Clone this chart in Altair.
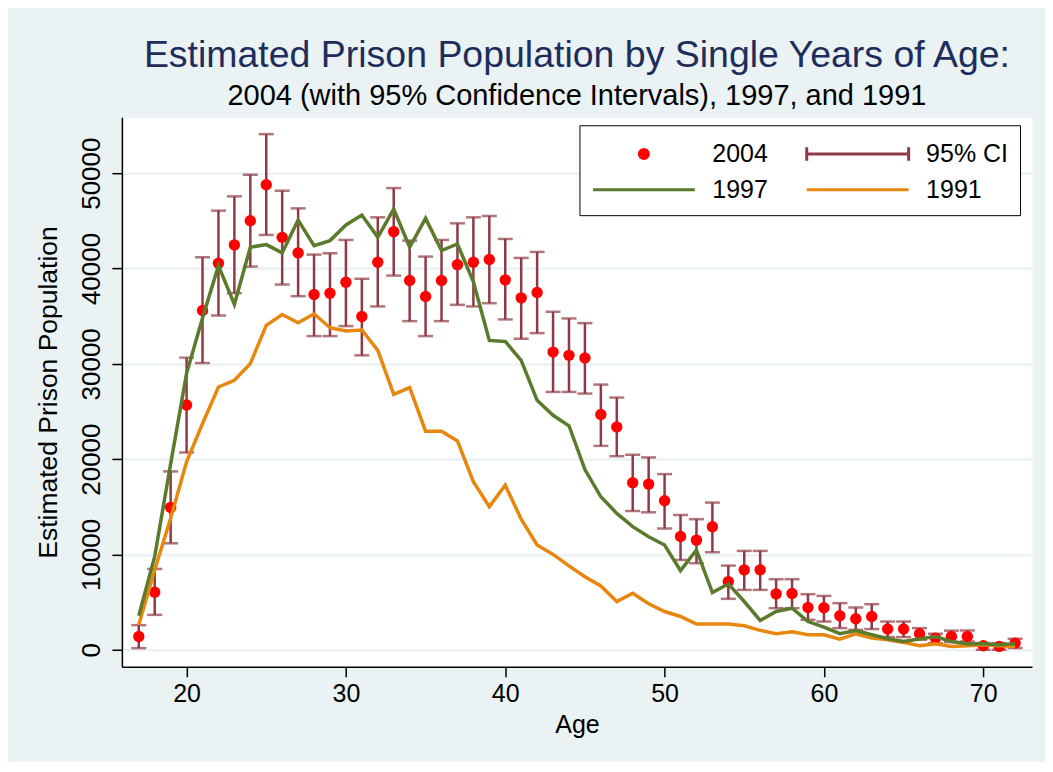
import altair as alt
import pandas as pd

FONT = "Liberation Sans"

ages = list(range(17, 73))

est_2004 = [1390, 6040, 14940, 25680, 35600, 40560, 42480, 45020, 48790, 43270,
            41640, 37270, 37410, 38560, 34970, 40660, 43870, 38740, 37060, 38740,
            40410, 40660, 40940, 38810, 36920, 37480, 31230, 30890, 30610, 24680,
            23380, 17520, 17380, 15630, 11880, 11500, 12910, 7150, 8380, 8380,
            5860, 5900, 4430, 4400, 3560, 3250, 3490, 2170, 2170, 1680,
            1220, 1390, 1390, 420, 350, 700]

ci_low = [170, 3660, 11170, 20700, 30080, 35070, 37410, 40200, 43520, 38320,
          37100, 32910, 32910, 33960, 30890, 36020, 39260, 34480, 32910, 34480,
          36190, 36020, 36360, 34660, 32630, 33220, 27050, 27050, 26880, 21390,
          20310, 14550, 14420, 12720, 9420, 9080, 10230, 5340, 6280, 6280,
          4360, 4360, 3140, 2960, 2270, 2090, 2170, 1330, 1330, 1050,
          700, 800, 870, 0, 0, 180]

ci_high = [2580, 8480, 18710, 30650, 41180, 46070, 47570, 49840, 54100, 48160,
           46310, 41460, 41600, 43000, 38920, 45370, 48440, 42930, 41250, 43000,
           44740, 45370, 45510, 43100, 41110, 41740, 35460, 34760, 34270, 27820,
           26460, 20450, 20180, 18430, 14140, 13700, 15440, 8830, 10370, 10370,
           7400, 7400, 5830, 5650, 4890, 4430, 4780, 2960, 2960, 2270,
           1680, 2000, 2020, 700, 700, 1150]

pop_1997 = [3560, 9800, 19500, 29000, 34800, 40300, 36230, 42230, 42510, 41640,
            45090, 42400, 42930, 44570, 45610, 43270, 46240, 42230, 45260, 41880,
            42580, 38600, 32460, 32350, 30370, 26170, 24600, 23500, 18900, 16050,
            14310, 12910, 11850, 10990, 8300, 10470, 6000, 6910, 5060, 3070,
            4010, 4360, 2960, 2370, 1680, 2020, 1570, 1150, 870, 1120,
            1390, 870, 630, 630, 520, 630]

pop_1991 = [2620, 8380, 13790, 19720, 23730, 27570, 28270, 30020, 34030, 35180,
            34310, 35250, 33790, 33450, 33550, 31410, 26800, 27500, 22930, 22930,
            21910, 17620, 15000, 17270, 13700, 11000, 10000, 8800, 7670, 6700,
            5060, 5930, 4820, 4010, 3490, 2690, 2690, 2690, 2520, 2030,
            1680, 1890, 1570, 1570, 1120, 1680, 1220, 1050, 770, 420,
            630, 350, 420, 520, 420, 350]

# legend entries are filled column by column: 2004, 1997 | 95% CI, 1991
legend_labels = ["2004", "1997", "95% CI", "1991"]
legend_colors = ["#FF0000", "#5B7B2C", "#8E3B46", "#E8870E"]
x_ticks = [20, 30, 40, 50, 60, 70]
y_ticks = [0, 10000, 20000, 30000, 40000, 50000]
Y_TITLE = "Estimated Prison Population"

df_pts = pd.DataFrame({"age": ages, "est": est_2004, "lo": ci_low, "hi": ci_high,
                       "series": ["2004"] * len(ages)})
df_1997 = pd.DataFrame({"age": ages, "value": pop_1997, "series": ["1997"] * len(ages)})
df_1991 = pd.DataFrame({"age": ages, "value": pop_1991, "series": ["1991"] * len(ages)})
df_lines = pd.concat([df_1997, df_1991], ignore_index=True)

xs = alt.Scale(domain=[15.94, 73.06], nice=False, zero=False)
ys = alt.Scale(domain=[-1782, 55870], nice=False, zero=False)
cs = alt.Scale(domain=legend_labels, range=legend_colors)


def ring(cx, r):
    return (f"M{cx - r},0A{r},{r} 0 1,0 {cx + r},0"
            f"A{r},{r} 0 1,0 {cx - r},0Z")


# legend symbol paths (1 unit = 15 px; symbol centre shifted by symbolOffset)
CIRCLE_PATH = ring(-2.4, 0.1) + ring(-2.4, 0.3)
CI_PATH = "M-5.8,0H1M-5.8,-0.45V0.45M1,-0.45V0.45"
LINE_PATH = "M-5.8,0H1"
shp = alt.Scale(domain=legend_labels, range=[CIRCLE_PATH, LINE_PATH, CI_PATH, LINE_PATH])

x_axis = alt.Axis(values=x_ticks, title="Age", grid=False, labelFontSize=25,
                  titleFontSize=25, labelPadding=5, titlePadding=6)
y_axis = alt.Axis(values=y_ticks, title=Y_TITLE, grid=True, format="d",
                  labelFontSize=26, titleFontSize=26.5, labelAngle=270,
                  labelAlign="center", labelBaseline="bottom", labelPadding=7,
                  titlePadding=16)

legend = alt.Legend(
    title=None, orient="none", legendX=458, legendY=8, columns=2,
    columnPadding=32, rowPadding=6, padding=12,
    fillColor="white", strokeColor="black",
    labelFont=FONT, labelFontSize=25, labelColor="black", labelOffset=16,
    symbolSize=900, symbolOffset=72, symbolStrokeWidth=3, symbolOpacity=1,
    symbolFillColor="#FF0000",
)

ci = alt.Chart(df_pts).mark_errorbar(ticks=True, size=15, thickness=2.5,
                                      color="#8E3B46").encode(
    x=alt.X("age:Q", scale=xs, axis=x_axis),
    y=alt.Y("lo:Q", scale=ys, axis=y_axis, title=Y_TITLE),
    y2="hi:Q",
)

points = alt.Chart(df_pts).mark_circle(size=130, opacity=1, color="#FF0000").encode(
    x=alt.X("age:Q", scale=xs, title="Age"),
    y=alt.Y("est:Q", scale=ys, title=Y_TITLE),
)

line_1997 = alt.Chart(df_1997).mark_line(strokeWidth=3.5, color=legend_colors[1]).encode(
    x=alt.X("age:Q", scale=xs, title="Age"),
    y=alt.Y("value:Q", scale=ys, title=Y_TITLE),
)

line_1991 = alt.Chart(df_1991).mark_line(strokeWidth=3.5, color=legend_colors[3]).encode(
    x=alt.X("age:Q", scale=xs, title="Age"),
    y=alt.Y("value:Q", scale=ys, title=Y_TITLE),
)

# invisible carrier layer that only provides the legend
legend_layer = alt.Chart(df_lines).mark_point(filled=False, opacity=0).encode(
    x=alt.X("age:Q", scale=xs, title="Age"),
    y=alt.Y("value:Q", scale=ys, title=Y_TITLE),
    color=alt.Color("series:N", scale=cs, legend=legend),
    shape=alt.Shape("series:N", scale=shp, legend=legend),
)

chart = alt.layer(ci, points, line_1991, line_1997, legend_layer).properties(
    width=911, height=550,
    padding={"left": 114, "top": 109, "right": 13, "bottom": 95},
    autosize=alt.AutoSizeParams(type="none"),
    background="#EAF2F3",
    title=alt.TitleParams(
        text="Estimated Prison Population by Single Years of Age:",
        subtitle="2004 (with 95% Confidence Intervals), 1997, and 1991",
        font=FONT, fontSize=37.5, fontWeight="normal", color="#1E2D5C",
        subtitleFont=FONT, subtitleFontSize=29, subtitleColor="black",
        anchor="middle", offset=6, subtitlePadding=8,
    ),
).configure_view(
    fill="white", stroke="transparent"
).configure_axis(
    domainColor="black", domainWidth=1.5, tickColor="black", tickWidth=1.5,
    tickSize=10, gridColor="#EAF2F3", gridWidth=2.5, labelFont=FONT,
    titleFont=FONT, labelColor="black", titleColor="black",
    titleFontWeight="normal",
)

chart.save("out.html", embed_options={"renderer": "svg", "actions": False})
